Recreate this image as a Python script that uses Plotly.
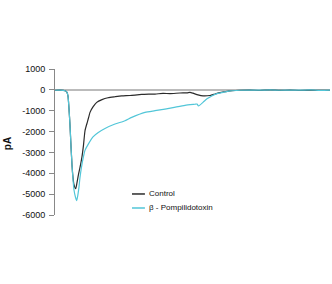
import plotly.graph_objects as go

# time (arbitrary units) and current (pA)
control_t = [0, 5, 10, 12, 13, 14, 15, 16, 17, 18, 19, 20.7, 22, 23.5, 25, 27, 28.5, 30, 32, 33.5, 35, 38, 41.7, 47, 53, 60, 66.7, 75, 86.7,
             100, 108, 115, 125, 132, 135, 138, 143, 148, 155, 160, 165, 170, 175, 180, 185, 195, 205, 215, 225, 235, 245, 255, 265, 275]
control_pA = [-20, -10, -40, -120, -300, -900, -1700, -2700, -3600, -4200, -4550, -4740, -4450, -4050, -3720, -3200, -2650, -1960, -1600, -1350, -1080, -820, -600, -470, -380, -330, -290, -270, -220,
              -200, -170, -180, -150, -140, -120, -160, -240, -290, -270, -200, -130, -90, -50, -30, -20, -10, -30, -5, -25, -10, -30, -15, -25, -20]

pompi_t = [0, 5, 10, 12, 13, 14, 15, 16, 17, 18, 19, 20.5, 21.7, 23, 24, 25, 26.5, 28.3, 30, 33.3, 38, 43.3, 50, 60, 70, 76.7, 90,
           100, 110, 118, 130, 140, 142, 143.5, 148, 152, 156.7, 162, 166.7, 175, 185, 195, 205, 215, 225, 235, 245, 255, 265, 275]
pompi_pA = [-20, -10, -40, -120, -300, -900, -1700, -2700, -3600, -4300, -4800, -5150, -5310, -5000, -4650, -4200, -3700, -3240, -2900, -2600, -2250, -2040, -1850, -1640, -1480, -1320, -1080,
            -1000, -920, -850, -740, -690, -680, -770, -600, -430, -290, -180, -130, -50, -20, -10, -15, -5, -20, -10, -15, -5, -25, -15]

series_names = ["Control", "β - Pompilidotoxin"]
series_colors = ["#2b2b2b", "#52c6d8"]
y_ticks = [1000, 0, -1000, -2000, -3000, -4000, -5000, -6000]

fig = go.Figure()
fig.add_trace(go.Scatter(x=control_t, y=control_pA, mode="lines", name=series_names[0],
                         line=dict(color=series_colors[0], width=1.2, shape="spline", smoothing=0.6)))
fig.add_trace(go.Scatter(x=pompi_t, y=pompi_pA, mode="lines", name=series_names[1],
                         line=dict(color=series_colors[1], width=1.2, shape="spline", smoothing=0.6)))

# manual legend
legend_y = [0.144, 0.048]
for i in range(2):
    fig.add_shape(type="line", xref="paper", yref="paper", x0=0.28, x1=0.327, y0=legend_y[i], y1=legend_y[i],
                  line=dict(color=series_colors[i], width=1.5))
    fig.add_annotation(xref="paper", yref="paper", x=0.335, y=legend_y[i], text=series_names[i], showarrow=False,
                       xanchor="left", yanchor="middle", font=dict(family="Arial", size=8, color="#111"))

fig.add_annotation(xref="paper", yref="paper", x=-0.172, y=0.49, text="<b>pA</b>", textangle=-90, showarrow=False,
                   xanchor="center", yanchor="middle", font=dict(family="Arial", size=10, color="#111"))

fig.update_layout(
    width=332, height=284,
    margin=dict(l=55, r=2, t=69, b=69),
    paper_bgcolor="white", plot_bgcolor="white",
    showlegend=False,
    xaxis=dict(visible=False, range=[0, 275]),
    yaxis=dict(range=[-6000, 1000], tickvals=y_ticks, ticktext=[str(v) for v in y_ticks],
               showgrid=False, zeroline=True, zerolinecolor="#bbbbbb", zerolinewidth=1.5,
               showline=True, linecolor="#888", linewidth=1, ticks="outside", ticklen=5, tickcolor="#888",
               ticklabelstandoff=2,
               tickfont=dict(family="Arial", size=9, color="#111")),
)
fig.write_html("out.html")
